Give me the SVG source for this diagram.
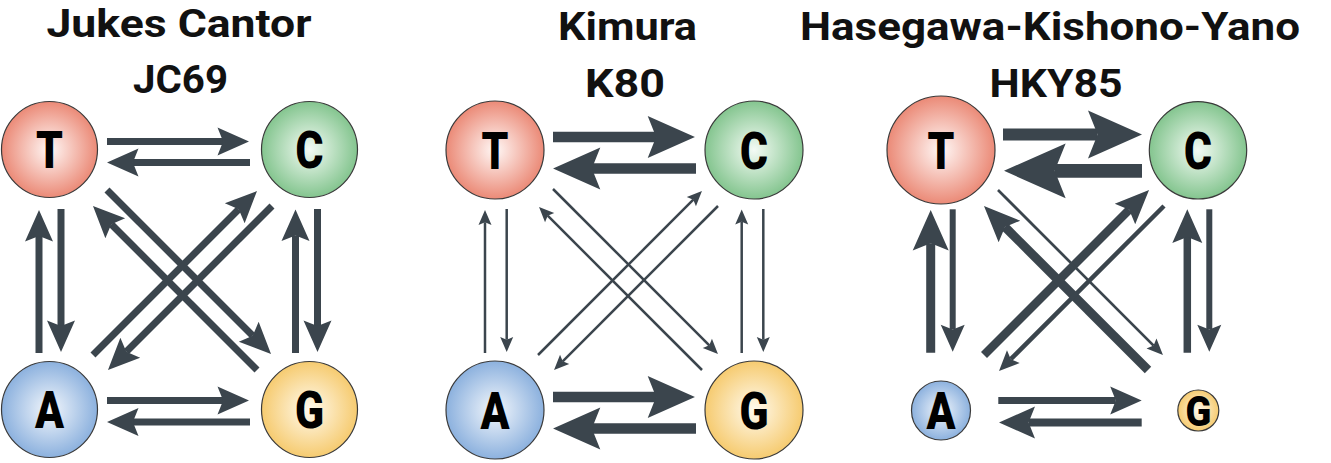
<svg xmlns="http://www.w3.org/2000/svg" width="1331" height="463" viewBox="0 0 1331 463">
<defs>
<radialGradient id="gT"><stop offset="0" stop-color="#fff8f6"/><stop offset="1" stop-color="#eb8a77"/></radialGradient>
<radialGradient id="gC"><stop offset="0" stop-color="#f4fbf5"/><stop offset="1" stop-color="#84c58f"/></radialGradient>
<radialGradient id="gA"><stop offset="0" stop-color="#f3f7fc"/><stop offset="1" stop-color="#8cb1de"/></radialGradient>
<radialGradient id="gG"><stop offset="0" stop-color="#fffaee"/><stop offset="1" stop-color="#f6cb70"/></radialGradient>
<marker id="big" markerUnits="strokeWidth" orient="auto" refX="0.8" refY="0" markerWidth="5" markerHeight="5" overflow="visible"><path d="M0,-2 L4.5,0 L0,2 L0.8,0 Z" fill="#3b454d"/></marker>
<marker id="mid" markerUnits="strokeWidth" orient="auto" refX="0.7" refY="0" markerWidth="5" markerHeight="5" overflow="visible"><path d="M0,-1.7 L4,0 L0,1.7 L0.7,0 Z" fill="#3b454d"/></marker>
<marker id="thin" markerUnits="strokeWidth" orient="auto" refX="1.1" refY="0" markerWidth="7" markerHeight="7" overflow="visible"><path d="M0,-2.6 L6,0 L0,2.6 L1.1,0 Z" fill="#3b454d"/></marker>
</defs>
<style>
.title{font-family:Roboto,"Liberation Sans",sans-serif;font-weight:700;font-size:39.5px;fill:#111;text-anchor:middle}
.node circle{stroke:#3a3a3a;stroke-width:1.2}
.lbl{font-family:Roboto,"Liberation Sans",sans-serif;font-weight:900;font-size:52px;fill:#000;text-anchor:middle}
.con line{stroke:#3b454d;fill:none}
.b{marker-end:url(#big)}
.m{marker-end:url(#mid)}
.t{marker-end:url(#thin)}
</style>

<text class="title" x="179" y="37" textLength="265" lengthAdjust="spacingAndGlyphs">Jukes Cantor</text>
<text class="title" x="180.5" y="93" textLength="95" lengthAdjust="spacingAndGlyphs">JC69</text>
<text class="title" x="627.5" y="39.5" textLength="139" lengthAdjust="spacingAndGlyphs">Kimura</text>
<text class="title" x="625" y="96.7" textLength="80" lengthAdjust="spacingAndGlyphs">K80</text>
<text class="title" x="1050" y="39.5" textLength="500" lengthAdjust="spacingAndGlyphs">Hasegawa-Kishono-Yano</text>
<text class="title" x="1056" y="96.7" textLength="133" lengthAdjust="spacingAndGlyphs">HKY85</text>

<g id="connectors" class="con">
<g id="jc69-edges" stroke-width="7">
<line class="b" x1="107" y1="141.5" x2="223.1" y2="141.5"/>
<line class="b" x1="250" y1="162.5" x2="132.9" y2="162.5"/>
<line class="b" x1="107" y1="400.5" x2="223.1" y2="400.5"/>
<line class="b" x1="250" y1="422" x2="132.9" y2="422"/>
<line class="b" x1="39" y1="353" x2="39" y2="235.9"/>
<line class="b" x1="61" y1="209" x2="61" y2="326.1"/>
<line class="b" x1="295.5" y1="353" x2="295.5" y2="235.4"/>
<line class="b" x1="317.5" y1="209" x2="317.5" y2="326.1"/>
<line class="b" x1="107" y1="190" x2="252.7" y2="335.7"/>
<line class="b" x1="257" y1="370" x2="111.3" y2="224.3"/>
<line class="b" x1="93" y1="355" x2="238.7" y2="209.3"/>
<line class="b" x1="272" y1="206" x2="126.3" y2="351.7"/>
</g>
<g id="k80-edges">
<line class="b" stroke-width="10.5" x1="553" y1="137" x2="656.1" y2="137"/>
<line class="b" stroke-width="10.5" x1="696" y1="168.5" x2="591.9" y2="168.5"/>
<line class="b" stroke-width="10.5" x1="553" y1="397" x2="656.1" y2="397"/>
<line class="b" stroke-width="10.5" x1="696" y1="428.5" x2="591.9" y2="428.5"/>
<line class="t" stroke-width="2.5" x1="485" y1="353" x2="485" y2="222.25"/>
<line class="t" stroke-width="2.5" x1="506.7" y1="209" x2="506.7" y2="339.75"/>
<line class="t" stroke-width="2.5" x1="741.7" y1="353" x2="741.7" y2="221.75"/>
<line class="t" stroke-width="2.5" x1="763.3" y1="209" x2="763.3" y2="339.75"/>
<line class="t" stroke-width="2.5" x1="553" y1="189" x2="709.3" y2="345.3"/>
<line class="t" stroke-width="2.5" x1="702" y1="370" x2="547.7" y2="215.7"/>
<line class="t" stroke-width="2.5" x1="538" y1="355" x2="693.3" y2="199.7"/>
<line class="t" stroke-width="2.5" x1="718" y1="206" x2="562.7" y2="361.3"/>
</g>
<g id="hky85-edges">
<line class="b" stroke-width="12" x1="1003" y1="134.5" x2="1097.6" y2="134.5"/>
<line class="b" stroke-width="13.7" x1="1142" y1="170.8" x2="1054.7" y2="170.8"/>
<line class="b" stroke-width="9" x1="930.7" y1="352.7" x2="930.7" y2="243.3"/>
<line class="b" stroke-width="6" x1="952.7" y1="209.3" x2="952.7" y2="329.5"/>
<line class="b" stroke-width="7.5" x1="1187.3" y1="352.7" x2="1187.3" y2="237.05"/>
<line class="b" stroke-width="6" x1="1209.3" y1="209.3" x2="1209.3" y2="329.5"/>
<line class="b" stroke-width="7" x1="998.3" y1="400.5" x2="1115.8" y2="400.5"/>
<line class="b" stroke-width="8" x1="1141.7" y1="422.5" x2="1028.6" y2="422.5"/>
<line class="m" stroke-width="8.5" x1="984" y1="355" x2="1129.2" y2="209.8"/>
<line class="m" stroke-width="9" x1="1148" y1="370" x2="1005" y2="227"/>
<line class="b" stroke-width="4.5" x1="1164" y1="206" x2="1010.8" y2="359.2"/>
<line class="t" stroke-width="2.7" x1="998" y1="190" x2="1153.6" y2="345.6"/>
</g>
</g>

<g id="jc69-T" class="node"><circle cx="49.5" cy="149.5" r="48" fill="url(#gT)"/><text class="lbl" transform="translate(49.5 168) scale(0.82 1)">T</text></g>
<g id="jc69-C" class="node"><circle cx="309.5" cy="149.5" r="48" fill="url(#gC)"/><text class="lbl" transform="translate(309.5 168) scale(0.82 1)">C</text></g>
<g id="jc69-A" class="node"><circle cx="49.5" cy="409.5" r="48" fill="url(#gA)"/><text class="lbl" transform="translate(49.5 428) scale(0.82 1)">A</text></g>
<g id="jc69-G" class="node"><circle cx="309.5" cy="409.5" r="48" fill="url(#gG)"/><text class="lbl" transform="translate(309.5 428) scale(0.82 1)">G</text></g>

<g id="k80-T" class="node"><circle cx="495" cy="150" r="49" fill="url(#gT)"/><text class="lbl" transform="translate(495 168.5) scale(0.82 1)">T</text></g>
<g id="k80-C" class="node"><circle cx="754" cy="150" r="49" fill="url(#gC)"/><text class="lbl" transform="translate(754 168.5) scale(0.82 1)">C</text></g>
<g id="k80-A" class="node"><circle cx="495" cy="410" r="49" fill="url(#gA)"/><text class="lbl" transform="translate(495 428.5) scale(0.82 1)">A</text></g>
<g id="k80-G" class="node"><circle cx="754" cy="410" r="49" fill="url(#gG)"/><text class="lbl" transform="translate(754 428.5) scale(0.82 1)">G</text></g>

<g id="hky85-T" class="node"><circle cx="941" cy="150" r="54" fill="url(#gT)"/><text class="lbl" transform="translate(941 168.5) scale(0.82 1)">T</text></g>
<g id="hky85-C" class="node"><circle cx="1198" cy="150.3" r="48.7" fill="url(#gC)"/><text class="lbl" transform="translate(1198 168.8) scale(0.82 1)">C</text></g>
<g id="hky85-A" class="node"><circle cx="941" cy="410.5" r="29.5" fill="url(#gA)"/><text class="lbl" transform="translate(941 429) scale(0.82 1)">A</text></g>
<g id="hky85-G" class="node"><circle cx="1198.3" cy="410.5" r="20.5" fill="url(#gG)"/><text class="lbl" style="font-size:43px" transform="translate(1198.3 425.8) scale(0.88 1)">G</text></g>
</svg>
